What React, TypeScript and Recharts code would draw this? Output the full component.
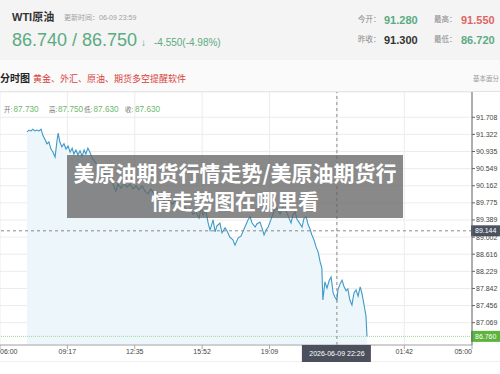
import React from 'react';
import { ComposedChart, Area, XAxis, YAxis, CartesianGrid, ReferenceLine } from 'recharts';

const times = [
  "07:19","07:25","07:31","07:36","07:42","07:48","07:54","08:00","08:06","08:12",
  "08:17","08:23","08:29","08:35","08:41","08:47","08:50","08:55","09:01","09:07",
  "09:13","09:19","09:25","09:31","09:36","09:42","09:48","09:54","10:00","10:06",
  "10:11","10:17","10:23","10:29","10:38","10:47","10:55","11:04","11:13","11:22",
  "11:30","11:39","11:45","11:54","12:03","12:11","12:20","12:29","12:38","12:46",
  "12:55","13:04","13:13","13:21","13:30","13:39","13:48","13:57","14:05","14:14",
  "14:23","14:32","14:40","14:49","14:58","15:07","15:16","15:24","15:33","15:42",
  "15:48","15:54","16:02","16:08","16:14","16:23","16:29","16:34","16:43","16:49",
  "16:58","17:04","17:12","17:21","17:27","17:36","17:45","17:50","17:59","18:05",
  "18:11","18:17","18:26","18:31","18:40","18:46","18:52","18:58","19:04","19:12",
  "19:21","19:27","19:33","19:39","19:45","19:53","19:59","20:05","20:11","20:17",
  "20:23","20:28","20:34","20:43","20:49","20:55","21:01","21:06","21:12","21:18",
  "21:24","21:30","21:36","21:41","21:44","21:50","21:56","22:02","22:08","22:14",
  "22:19","22:25","22:28","22:34","22:40","22:46","22:52","22:57","23:03","23:09",
  "23:15","23:21","23:27","23:33","23:38","23:44","23:50","23:53"
];

const prices = [
  91.38, 91.42, 91.40, 91.44, 91.40, 91.42, 91.40, 91.44, 91.29, 91.20,
  91.11, 91.15, 90.99, 90.92, 90.81, 91.20, 91.35, 91.15, 91.04, 91.11,
  90.99, 91.06, 90.92, 91.01, 90.88, 90.97, 90.86, 90.95, 90.83, 90.97,
  90.88, 91.01, 90.92, 90.79, 90.70, 90.59, 90.52, 90.43, 90.38, 90.32,
  90.20, 90.04, 90.20, 90.11, 90.22, 90.13, 90.20, 90.09, 90.16, 90.07,
  90.16, 90.04, 89.98, 90.09, 89.98, 90.02, 89.91, 89.86, 89.77, 89.84,
  89.75, 89.82, 89.71, 89.64, 89.71, 89.59, 89.64, 89.52, 89.57, 89.43,
  89.68, 89.50, 89.61, 89.34, 89.16, 89.39, 89.12, 89.25, 89.32, 89.10,
  89.21, 89.14, 89.00, 88.94, 88.82, 88.98, 89.03, 89.12, 89.28, 89.39,
  89.46, 89.32, 89.23, 89.30, 89.34, 89.21, 89.05, 89.16, 89.23, 89.39,
  89.59, 89.68, 89.61, 89.52, 89.66, 89.73, 89.55, 89.43, 89.32, 89.52,
  89.57, 89.41, 89.34, 89.23, 89.43, 89.46, 89.28, 89.19, 89.05, 88.94,
  88.78, 88.67, 88.44, 88.30, 87.58, 87.99, 87.85, 88.01, 88.10, 87.74,
  87.65, 87.58, 87.81, 87.94, 88.03, 87.88, 87.79, 87.83, 87.58, 87.47,
  87.74, 87.81, 87.67, 87.88, 87.74, 87.49, 87.22, 86.76
];

const xTickValues = [0, 197, 394, 591, 788, 985, 1182, 1380];
const xTickLabels = ["06:00", "09:17", "12:35", "15:52", "19:09", "2026-06-09 22:26", "01:42", "05:00"];
const yTicks = [91.708, 91.322, 90.935, 90.549, 90.162, 89.775, 89.389, 89.002, 88.616, 88.229, 87.842, 87.456, 87.069];
const yDomain = [86.565, 92.279];
const crossTime = 985;
const crossPrice = 89.144;
const lastPrice = 86.76;

const infoLabels = ["开:", "高:", "低:", "收:"];
const infoValues = ["87.730", "87.750", "87.630", "87.630"];

const toOffset = (t: string) => {
  const [h, m] = t.split(':').map(Number);
  let v = h * 60 + m - 360;
  if (v < 0) v += 1440;
  return v;
};

const data = times.map((t, i) => ({ t: toOffset(t), p: prices[i] }));

const FONT = '"Liberation Sans", Arial, "Noto Sans CJK SC", sans-serif';
const GREEN = '#5aab82';

const XTick = (props: any) => {
  const { x, y, payload } = props;
  const i = xTickValues.indexOf(payload.value);
  const label = xTickLabels[i];
  if (payload.value === crossTime) {
    return (
      <g>
        <rect x={x - 35} y={y - 4} width={69} height={17} fill="#4b505c" />
        <text x={x} y={y + 7} textAnchor="middle" fontSize={7} fill="#fff" fontFamily={FONT}>{label}</text>
      </g>
    );
  }
  const anchor = i === 0 ? 'start' : i === xTickValues.length - 1 ? 'end' : 'middle';
  return (
    <text x={x} y={y + 4.5} textAnchor={anchor} fontSize={7} fill="#444" fontFamily={FONT}>{label}</text>
  );
};

const YTick = (props: any) => {
  const { x, y, payload } = props;
  return (
    <text x={x} y={y + 2.5} textAnchor="start" fontSize={7} fill="#444" fontFamily={FONT}>
      {payload.value.toFixed(3)}
    </text>
  );
};

const priceBox = (value: number, fill: string) => (props: any) => {
  const vb = props.viewBox || {};
  const x0 = (vb.x || 0) + (vb.width || 0);
  const yc = vb.y || 0;
  return (
    <g>
      <rect x={x0 - 1} y={yc - 5.5} width={29} height={11} fill={fill} />
      <text x={x0 + 3} y={yc + 2.5} fontSize={7} fill="#fff" fontFamily={FONT}>{value.toFixed(3)}</text>
    </g>
  );
};

const abs = (style: React.CSSProperties): React.CSSProperties => ({ position: 'absolute', whiteSpace: 'nowrap', lineHeight: 1, ...style });

export default function App() {
  return (
    <div style={{ position: 'absolute', left: 0, top: 0, width: 500, height: 374, overflow: 'hidden', background: '#fff', fontFamily: FONT }}>
      <div style={abs({ left: 0, top: 0, width: 500, height: 60, background: '#f4f4f4' })} />
      <div style={abs({ left: 0, top: 60, width: 500, height: 31, background: '#fafafa' })} />

      <div style={abs({ left: 12, top: 11.5, fontSize: 11, fontWeight: 'bold', color: '#333' })}>WTI原油</div>
      <div style={abs({ left: 64, top: 13.5, fontSize: 7, color: '#a0a0a0' })}>更新时间：06-09 23:59</div>
      <div style={abs({ left: 12, top: 31, fontSize: 18, color: GREEN })}>86.740 / 86.750</div>
      <div style={abs({ left: 141, top: 37.5, fontSize: 10, color: GREEN })}>↓</div>
      <div style={abs({ left: 154, top: 38, fontSize: 10, color: GREEN })}>-4.550(-4.98%)</div>

      <div style={abs({ left: 358, top: 16.3, fontSize: 7.5, color: '#888' })}>今开：</div>
      <div style={abs({ left: 384, top: 14.5, fontSize: 11, fontWeight: 'bold', color: GREEN })}>91.280</div>
      <div style={abs({ left: 434, top: 16.3, fontSize: 7.5, color: '#888' })}>最高：</div>
      <div style={abs({ left: 461, top: 14.5, fontSize: 11, fontWeight: 'bold', color: '#e06464' })}>91.550</div>
      <div style={abs({ left: 358, top: 36.3, fontSize: 7.5, color: '#888' })}>昨收：</div>
      <div style={abs({ left: 384, top: 34.5, fontSize: 11, fontWeight: 'bold', color: '#333' })}>91.300</div>
      <div style={abs({ left: 434, top: 36.3, fontSize: 7.5, color: '#888' })}>最低：</div>
      <div style={abs({ left: 461, top: 34.5, fontSize: 11, fontWeight: 'bold', color: GREEN })}>86.720</div>

      <div style={abs({ left: 0, top: 74, fontSize: 10, fontWeight: 'bold', color: '#222' })}>分时图</div>
      <div style={abs({ left: 33, top: 74.5, fontSize: 9, color: '#d8403a' })}>黄金、外汇、原油、期货多空提醒软件</div>
      <div style={abs({ left: 473, top: 75.7, fontSize: 6.5, color: '#999' })}>基本面分</div>
      <div style={abs({ left: 0, top: 91, width: 500, height: 1, background: '#e2e2e2' })} />
      <div style={abs({ left: 0, top: 361, width: 500, height: 1, background: '#efefef' })} />

      <div style={abs({ left: 0, top: 0 })}>
        <ComposedChart width={500} height={374} data={data} margin={{ top: 92, right: 0, bottom: 0, left: 0 }}>
          <CartesianGrid stroke="#ececec" strokeWidth={1} />
          <XAxis
            dataKey="t"
            type="number"
            domain={[0, 1380]}
            ticks={xTickValues}
            interval={0}
            height={29}
            tickSize={4}
            tickMargin={0}
            axisLine={{ stroke: '#aaa' }}
            tickLine={{ stroke: '#aaa' }}
            tick={<XTick />}
          />
          <YAxis
            orientation="right"
            type="number"
            domain={yDomain}
            ticks={yTicks}
            interval={0}
            width={28}
            tickSize={3}
            tickMargin={1}
            axisLine={{ stroke: '#666' }}
            tickLine={{ stroke: '#666' }}
            tick={<YTick />}
            allowDataOverflow
          />
          <Area
            type="linear"
            dataKey="p"
            stroke="#3f9ac4"
            strokeWidth={1.1}
            fill="#ecf6fb"
            fillOpacity={1}
            dot={false}
            activeDot={false}
            isAnimationActive={false}
          />
          <ReferenceLine y={lastPrice} stroke="#9fd49f" strokeDasharray="1 1" label={priceBox(lastPrice, '#5cb43c')} ifOverflow="visible" />
          <ReferenceLine x={crossTime} stroke="#8a8a8a" strokeDasharray="3 3" />
          <ReferenceLine y={crossPrice} stroke="#8a8a8a" strokeDasharray="3 3" label={priceBox(crossPrice, '#4b5261')} ifOverflow="visible" />
        </ComposedChart>
      </div>

      {infoLabels.map((l, i) => (
        <React.Fragment key={l}>
          <div style={abs({ left: [4, 49, 84, 125][i], top: 106.8, fontSize: 6.5, color: '#777' })}>{l}</div>
          <div style={abs({ left: [13.5, 58, 93.5, 135][i], top: 106, fontSize: 8.2, color: '#6cb86c' })}>{infoValues[i]}</div>
        </React.Fragment>
      ))}

      <div style={abs({ left: 67, top: 155, width: 336, height: 63, background: 'rgba(100,100,100,0.76)', color: '#fff', fontFamily: '"Noto Sans CJK SC", sans-serif', fontWeight: 'bold', fontSize: 21, lineHeight: '28px', textAlign: 'center', whiteSpace: 'normal', paddingTop: 3, boxSizing: 'border-box' })}>
        美原油期货行情走势/美原油期货行<br />情走势图在哪里看
      </div>
    </div>
  );
}
